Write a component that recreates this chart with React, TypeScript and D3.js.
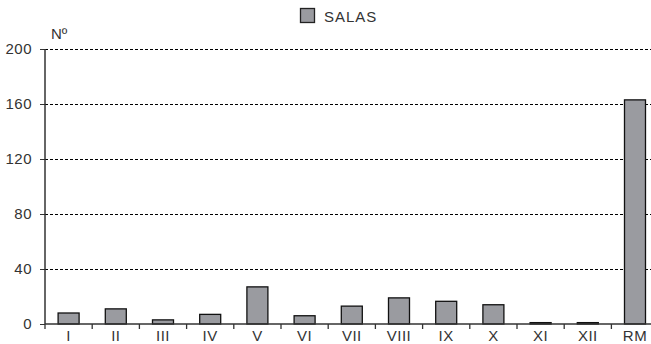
import React, { useEffect, useRef } from "react";
import * as d3 from "d3";

const categories = ["I", "II", "III", "IV", "V", "VI", "VII", "VIII", "IX", "X", "XI", "XII", "RM"];
const salas = [8, 11, 3, 7, 27, 6, 13, 19, 16.5, 14, 1, 1, 163];
const yTicks = [0, 40, 80, 120, 160, 200];

const FONT = "'Liberation Sans Narrow', 'Arial Narrow', 'Liberation Sans', sans-serif";

const App = () => {
  const svgRef = useRef(null);
  const width = 651;
  const height = 344;

  useEffect(() => {
    const svg = d3.select(svgRef.current);
    svg.selectAll("*").remove();

    const left = 45;
    const x = d3.scaleBand().domain(categories).range([left, left + 47.2 * 13]).paddingInner(0).paddingOuter(0);
    const y = d3.scaleLinear().domain([0, 200]).range([324, 49]);

    // gridlines
    svg.append("g")
      .selectAll("line")
      .data(yTicks.filter((t) => t > 0))
      .join("line")
      .attr("x1", left)
      .attr("x2", width)
      .attr("y1", (d) => y(d) + 0.5)
      .attr("y2", (d) => y(d) + 0.5)
      .attr("stroke", "#000")
      .attr("stroke-width", 1)
      .attr("stroke-dasharray", "3,2");

    // bars
    const bw = 21;
    svg.append("g")
      .selectAll("rect")
      .data(salas)
      .join("rect")
      .attr("x", (d, i) => x(categories[i]) + x.bandwidth() / 2 - bw / 2)
      .attr("y", (d) => y(d))
      .attr("width", bw)
      .attr("height", (d) => y(0) - y(d))
      .attr("fill", "#9a9ba0")
      .attr("stroke", "#111")
      .attr("stroke-width", 1.3);

    // y axis
    const yAxis = svg.append("g")
      .attr("transform", `translate(${left},0)`)
      .call(d3.axisLeft(y).tickValues(yTicks).tickSize(5).tickPadding(8));
    yAxis.select(".domain").attr("stroke", "#333").attr("stroke-width", 1.5).attr("d", `M0,${y(200)}V${y(0)}`);
    yAxis.selectAll("line").attr("stroke", "#333");
    yAxis.selectAll("text")
      .attr("font-family", FONT)
      .attr("font-size", 15)
      .attr("letter-spacing", 0.5)
      .attr("fill", "#333");

    // x axis
    const xAxis = svg.append("g")
      .attr("transform", `translate(0,${y(0)})`)
      .call(d3.axisBottom(x).tickSize(0).tickPadding(6));
    xAxis.select(".domain").attr("stroke", "#333").attr("stroke-width", 1.5).attr("d", `M${left},0H${width}`);
    xAxis.selectAll("text")
      .attr("font-family", FONT)
      .attr("font-size", 15)
      .attr("letter-spacing", 0.5)
      .attr("fill", "#333");
    // tick marks between categories
    svg.append("g")
      .selectAll("line")
      .data(categories)
      .join("line")
      .attr("x1", (d) => x(d))
      .attr("x2", (d) => x(d))
      .attr("y1", y(0))
      .attr("y2", y(0) + 5)
      .attr("stroke", "#333")
      .attr("stroke-width", 1.3);

    // unit label
    svg.append("text")
      .attr("x", 51)
      .attr("y", 39)
      .attr("font-family", FONT)
      .attr("font-size", 15)
      .attr("fill", "#333")
      .text("Nº");

    // legend
    svg.append("rect")
      .attr("x", 300.5)
      .attr("y", 8.5)
      .attr("width", 14)
      .attr("height", 14)
      .attr("fill", "#9a9ba0")
      .attr("stroke", "#222")
      .attr("stroke-width", 1.3);
    svg.append("text")
      .attr("x", 324)
      .attr("y", 22)
      .attr("font-family", FONT)
      .attr("font-size", 15)
      .attr("letter-spacing", 1)
      .attr("fill", "#333")
      .text("SALAS");
  }, []);

  return (
    <svg
      ref={svgRef}
      width={width}
      height={height}
      style={{ position: "absolute", left: 0, top: 0, background: "#fff" }}
    ></svg>
  );
};

export default App;
